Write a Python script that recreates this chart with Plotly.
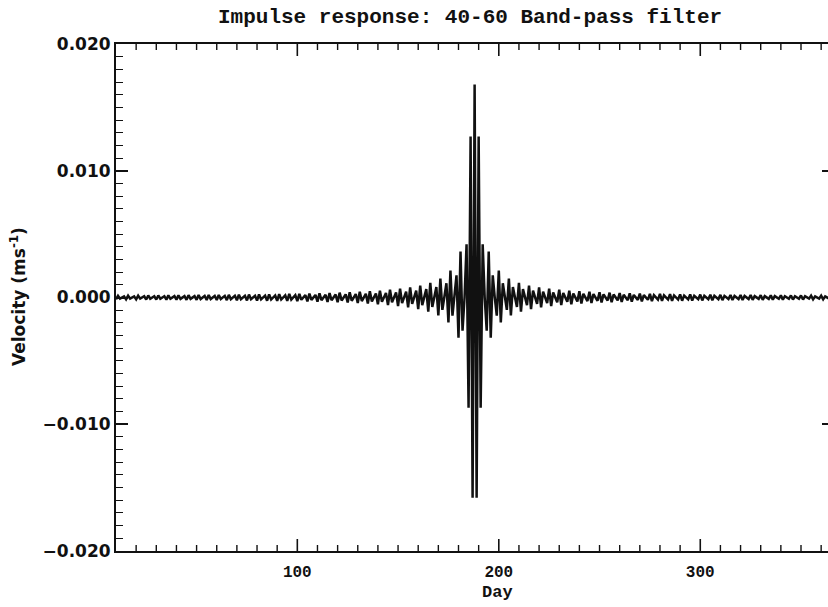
import plotly.graph_objects as go

# Daily band-pass filter impulse response (m/s), one value per day starting at day 10
first_day = 10
velocity = [
    -0.00014, 0.00014, -0.00009,
    0, 0.00009, -0.00015, 0.00015, -0.00009,
    0, 0.00009, -0.00015, 0.00015, -0.00009,
    0, 0.00010, -0.00016, 0.00016, -0.00010,
    0, 0.00010, -0.00016, 0.00016, -0.00010,
    0, 0.00010, -0.00017, 0.00017, -0.00010,
    0, 0.00011, -0.00017, 0.00017, -0.00011,
    0, 0.00011, -0.00018, 0.00018, -0.00011,
    0, 0.00011, -0.00018, 0.00019, -0.00012,
    0, 0.00012, -0.00019, 0.00019, -0.00012,
    0, 0.00012, -0.00020, 0.00020, -0.00012,
    0, 0.00013, -0.00021, 0.00021, -0.00013,
    0, 0.00013, -0.00022, 0.00022, -0.00014,
    0, 0.00014, -0.00023, 0.00023, -0.00014,
    0, 0.00014, -0.00024, 0.00024, -0.00015,
    0, 0.00015, -0.00025, 0.00025, -0.00016,
    0, 0.00016, -0.00026, 0.00026, -0.00016,
    0, 0.00017, -0.00027, 0.00028, -0.00017,
    0, 0.00018, -0.00029, 0.00029, -0.00018,
    0, 0.00019, -0.00031, 0.00031, -0.00019,
    0, 0.00020, -0.00033, 0.00033, -0.00021,
    0, 0.00021, -0.00035, 0.00035, -0.00022,
    0, 0.00023, -0.00037, 0.00038, -0.00024,
    0, 0.00025, -0.00040, 0.00041, -0.00026,
    0, 0.00027, -0.00044, 0.00045, -0.00028,
    0, 0.00029, -0.00048, 0.00049, -0.00031,
    0, 0.00032, -0.00053, 0.00054, -0.00034,
    0, 0.00036, -0.00059, 0.00061, -0.00038,
    0, 0.00040, -0.00067, 0.00069, -0.00044,
    0, 0.00046, -0.00077, 0.00079, -0.00051,
    0, 0.00054, -0.00091, 0.00094, -0.00060,
    0, 0.00066, -0.00111, 0.00116, -0.00075,
    0, 0.00083, -0.00141, 0.00150, -0.00098,
    0, 0.00112, -0.00196, 0.00212, -0.00143,
    0, 0.00175, -0.00318, 0.00363, -0.00262,
    0, 0.00420, -0.00870, 0.01270, -0.01580,
    0.01680,
    -0.01580, 0.01270, -0.00870, 0.00420, 0,
    -0.00262, 0.00363, -0.00318, 0.00175, 0,
    -0.00143, 0.00212, -0.00196, 0.00112, 0,
    -0.00098, 0.00150, -0.00141, 0.00083, 0,
    -0.00075, 0.00116, -0.00111, 0.00066, 0,
    -0.00060, 0.00094, -0.00091, 0.00054, 0,
    -0.00051, 0.00079, -0.00077, 0.00046, 0,
    -0.00044, 0.00069, -0.00067, 0.00040, 0,
    -0.00038, 0.00061, -0.00059, 0.00036, 0,
    -0.00034, 0.00054, -0.00053, 0.00032, 0,
    -0.00031, 0.00049, -0.00048, 0.00029, 0,
    -0.00028, 0.00045, -0.00044, 0.00027, 0,
    -0.00026, 0.00041, -0.00040, 0.00025, 0,
    -0.00024, 0.00038, -0.00037, 0.00023, 0,
    -0.00022, 0.00035, -0.00035, 0.00021, 0,
    -0.00021, 0.00033, -0.00033, 0.00020, 0,
    -0.00019, 0.00031, -0.00031, 0.00019, 0,
    -0.00018, 0.00029, -0.00029, 0.00018, 0,
    -0.00017, 0.00028, -0.00027, 0.00017, 0,
    -0.00016, 0.00026, -0.00026, 0.00016, 0,
    -0.00016, 0.00025, -0.00025, 0.00015, 0,
    -0.00015, 0.00024, -0.00024, 0.00014, 0,
    -0.00014, 0.00023, -0.00023, 0.00014, 0,
    -0.00014, 0.00022, -0.00022, 0.00013, 0,
    -0.00013, 0.00021, -0.00021, 0.00013, 0,
    -0.00012, 0.00020, -0.00020, 0.00012, 0,
    -0.00012, 0.00019, -0.00019, 0.00012, 0,
    -0.00012, 0.00019, -0.00018, 0.00011, 0,
    -0.00011, 0.00018, -0.00018, 0.00011, 0,
    -0.00011, 0.00017, -0.00017, 0.00011, 0,
    -0.00010, 0.00017, -0.00017, 0.00010, 0,
    -0.00010, 0.00016, -0.00016, 0.00010, 0,
    -0.00010, 0.00016, -0.00016, 0.00010, 0,
    -0.00009, 0.00015, -0.00015, 0.00009, 0,
    -0.00009, 0.00015, -0.00015, 0.00009, 0,
    -0.00009, 0.00014,
]
days = list(range(first_day, first_day + len(velocity)))

# Axis ticks and labels
x_range = [10, 363.4]
y_range = [-0.02, 0.02]
x_tick_values = [100, 200, 300]
x_tick_labels = ["100", "200", "300"]
x_minor_ticks = [d for d in range(20, 370, 10) if d % 100 != 0]
y_tick_values = [0.02, 0.01, 0.0, -0.01, -0.02]
y_tick_labels = ["0.020", "0.010", "0.000", "\u22120.010", "\u22120.020"]
y_minor_ticks = [round(i * 0.001, 3) for i in range(-19, 20) if i % 10 != 0]
y_right_ticks = [0.01, -0.01]

title_text = "Impulse response: 40-60 Band-pass filter"
x_title = "Day"
y_title = "Velocity (ms<sup>-1</sup>)"

INK = "#111111"
MAJOR_LEN, MINOR_LEN = 12, 6

fig = go.Figure()
fig.add_trace(go.Scatter(
    x=days, y=velocity, mode="lines",
    line=dict(color=INK, width=2.5),
    hoverinfo="skip", showlegend=False,
))
# empty traces so the tick-only overlay y axes get drawn
for ya in ("y2", "y3"):
    fig.add_trace(go.Scatter(x=[None], y=[None], xaxis="x", yaxis=ya,
                             mode="lines", hoverinfo="skip", showlegend=False))

# Day-axis tick marks on the bottom and top frame, pointing into the plot
tick_shapes = []
for values, length, width in ((x_tick_values, MAJOR_LEN, 1.6),
                              (x_minor_ticks, MINOR_LEN, 1.4)):
    for v in values:
        for anchor, sign in ((0, 1), (1, -1)):
            tick_shapes.append(dict(
                type="line", xref="x", yref="paper",
                ysizemode="pixel", yanchor=anchor,
                x0=v, x1=v, y0=0, y1=sign * length,
                line=dict(color=INK, width=width), layer="above",
            ))

plain = dict(showgrid=False, zeroline=False)
tick_only = dict(showticklabels=False, showline=False, **plain)

fig.update_layout(
    width=828, height=607,
    margin=dict(l=116, r=0, t=44, b=56, pad=0),
    paper_bgcolor="white", plot_bgcolor="white",
    showlegend=False,
    shapes=tick_shapes,
    xaxis=dict(
        range=x_range, side="bottom",
        tickmode="array", tickvals=x_tick_values, ticktext=x_tick_labels,
        ticks="", showline=True, linewidth=2, linecolor=INK, mirror=True,
        ticklabelstandoff=5,
        tickfont=dict(family="Liberation Mono", size=16, color=INK, weight="bold"),
        **plain,
    ),
    yaxis=dict(
        range=y_range,
        tickmode="array", tickvals=y_tick_values, ticktext=y_tick_labels,
        ticks="inside", ticklen=MAJOR_LEN, tickwidth=1.6, tickcolor=INK,
        showline=True, linewidth=2, linecolor=INK,
        tickfont=dict(family="DejaVu Sans", size=17, color=INK, weight="bold"),
        **plain,
    ),
    yaxis2=dict(
        overlaying="y", anchor="x", side="left", range=y_range,
        tickmode="array", tickvals=y_minor_ticks,
        ticks="inside", ticklen=7, tickwidth=1.4, tickcolor=INK,
        **tick_only,
    ),
    yaxis3=dict(
        overlaying="y", anchor="x", side="right", range=y_range,
        tickmode="array", tickvals=y_right_ticks,
        ticks="inside", ticklen=6, tickwidth=1.6, tickcolor=INK,
        **tick_only,
    ),
    annotations=[
        dict(text=title_text, xref="paper", yref="paper",
             x=0.497, y=1.0513, xanchor="center", yanchor="middle",
             showarrow=False,
             font=dict(family="Liberation Mono", size=21, color=INK, weight="bold")),
        dict(text=x_title, xref="paper", yref="paper",
             x=0.5365, y=-0.081, xanchor="center", yanchor="middle",
             showarrow=False,
             font=dict(family="Liberation Mono", size=17, color=INK, weight="bold")),
        dict(text=y_title, xref="paper", yref="paper",
             x=-0.1376, y=0.501, xanchor="center", yanchor="middle",
             textangle=-90, showarrow=False,
             font=dict(family="DejaVu Sans", size=17, color=INK, weight="bold")),
    ],
)

fig.write_html("out.html")
